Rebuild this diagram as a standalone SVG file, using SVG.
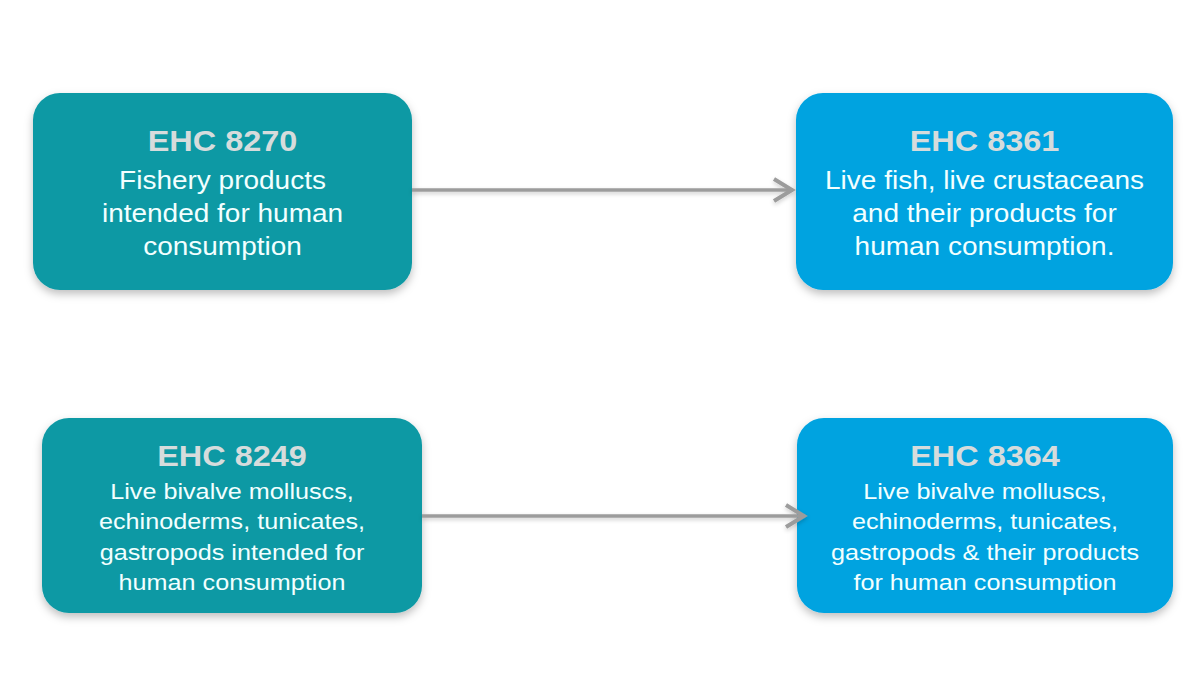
<svg xmlns="http://www.w3.org/2000/svg" width="1200" height="700" viewBox="0 0 1200 700">
<style>
.teal{fill:#1199A4}
.blue{fill:#04A3E0}
.title{font-family:"Liberation Sans",Arial,sans-serif;font-weight:bold;font-size:29px;fill:#D6DCDC;text-anchor:middle}
.body{font-family:"Liberation Sans",Arial,sans-serif;font-size:25px;fill:#F2FFFF;text-anchor:middle}
.body2{font-family:"Liberation Sans",Arial,sans-serif;font-size:22.5px;fill:#F2FFFF;text-anchor:middle}
.conn{stroke:#9C9C9C;stroke-width:3.5;fill:none}
</style>
<defs>
<filter id="sh" x="-10%" y="-10%" width="120%" height="130%">
<feDropShadow dx="0" dy="4" stdDeviation="4" flood-color="#000" flood-opacity="0.25"/>
</filter>
<filter id="lsh" x="-5%" y="-200%" width="110%" height="500%">
<feDropShadow dx="0" dy="2" stdDeviation="2" flood-color="#000" flood-opacity="0.2"/>
</filter>
<marker id="arr" markerWidth="24" markerHeight="28" refX="21" refY="13" orient="auto" markerUnits="userSpaceOnUse">
<path d="M2,2 L20,13 L2,24" fill="none" stroke="#9C9C9C" stroke-width="4" stroke-linejoin="miter"/>
</marker>
</defs>
<rect width="1200" height="700" fill="#FFFFFF"/>
<g id="ehc8270">
<rect class="teal" x="33" y="93" width="379" height="197" rx="27" filter="url(#sh)"/>
<g transform="translate(222.5 0) scale(1.12 1)">
<text class="title" x="0" y="151">EHC 8270</text>
<text class="body" x="0" y="189">Fishery products</text>
<text class="body" x="0" y="222">intended for human</text>
<text class="body" x="0" y="255">consumption</text>
</g>
</g>
<g id="ehc8361">
<rect class="blue" x="796" y="93" width="377" height="197" rx="27" filter="url(#sh)"/>
<g transform="translate(984.5 0) scale(1.12 1)">
<text class="title" x="0" y="151">EHC 8361</text>
<text class="body" x="0" y="189">Live fish, live crustaceans</text>
<text class="body" x="0" y="222">and their products for</text>
<text class="body" x="0" y="255">human consumption.</text>
</g>
</g>
<g id="ehc8249">
<rect class="teal" x="42" y="418" width="380" height="195" rx="27" filter="url(#sh)"/>
<g transform="translate(232 0) scale(1.12 1)">
<text class="title" x="0" y="466">EHC 8249</text>
<text class="body2" x="0" y="499">Live bivalve molluscs,</text>
<text class="body2" x="0" y="529">echinoderms, tunicates,</text>
<text class="body2" x="0" y="560">gastropods intended for</text>
<text class="body2" x="0" y="590">human consumption</text>
</g>
</g>
<g id="ehc8364">
<rect class="blue" x="797" y="418" width="376" height="195" rx="27" filter="url(#sh)"/>
<g transform="translate(985 0) scale(1.12 1)">
<text class="title" x="0" y="466">EHC 8364</text>
<text class="body2" x="0" y="499">Live bivalve molluscs,</text>
<text class="body2" x="0" y="529">echinoderms, tunicates,</text>
<text class="body2" x="0" y="560">gastropods &amp; their products</text>
<text class="body2" x="0" y="590">for human consumption</text>
</g>
</g>
<g id="connectors" filter="url(#lsh)">
<line class="conn" x1="412" y1="190" x2="793" y2="190" marker-end="url(#arr)"/>
<line class="conn" x1="422" y1="516" x2="805" y2="516" marker-end="url(#arr)"/>
</g>
</svg>
